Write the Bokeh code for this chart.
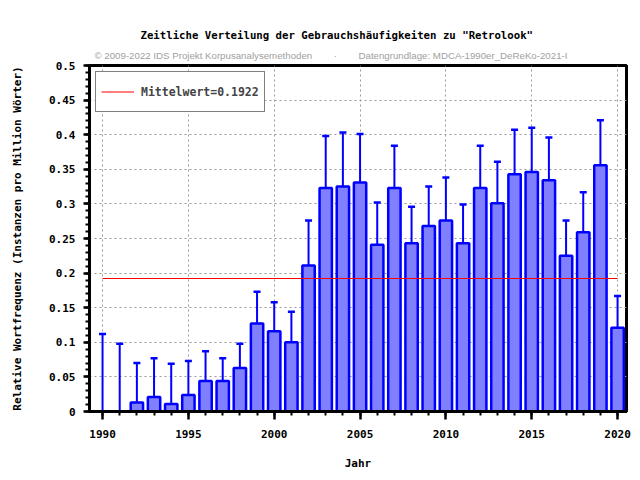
from bokeh.plotting import figure
from bokeh.models import (ColumnDataSource, Whisker, TeeHead, FixedTicker, Title,
                          Legend, LegendItem, Range1d)
from bokeh.embed import file_html
from bokeh.resources import INLINE

years = list(range(1990, 2021))
values = [0.0, 0.0, 0.013, 0.021, 0.011, 0.024, 0.044, 0.044, 0.063, 0.127,
          0.116, 0.100, 0.211, 0.323, 0.325, 0.331, 0.241, 0.323, 0.243, 0.268,
          0.276, 0.243, 0.323, 0.301, 0.343, 0.346, 0.334, 0.225, 0.259, 0.356,
          0.121]
upper = [0.112, 0.098, 0.070, 0.077, 0.069, 0.073, 0.087, 0.077, 0.098, 0.173,
         0.158, 0.144, 0.276, 0.398, 0.403, 0.401, 0.302, 0.384, 0.296, 0.325,
         0.338, 0.299, 0.384, 0.361, 0.407, 0.410, 0.396, 0.276, 0.317, 0.421,
         0.167]
lower = [0.0, 0.0, 0.001, 0.004, 0.001, 0.007, 0.022, 0.025, 0.039, 0.094,
         0.084, 0.069, 0.160, 0.260, 0.263, 0.272, 0.193, 0.269, 0.200, 0.221,
         0.226, 0.197, 0.272, 0.252, 0.289, 0.289, 0.282, 0.181, 0.213, 0.299,
         0.088]
mean_value = 0.1922

x_major = [1990, 1995, 2000, 2005, 2010, 2015, 2020]
y_major = [0, 0.05, 0.1, 0.15, 0.2, 0.25, 0.3, 0.35, 0.4, 0.45, 0.5]
y_labels = ["0", "0.05", "0.1", "0.15", "0.2", "0.25", "0.3", "0.35", "0.4", "0.45", "0.5"]
y_minor = [i / 100 for i in range(0, 51)]

title_text = 'Zeitliche Verteilung der Gebrauchshäufigkeiten zu "Retrolook"'
sub_text = ("© 2009-2022 IDS Projekt Korpusanalysemethoden" + "\u00a0" * 8 + "·"
            + "\u00a0" * 8 + "Datengrundlage: MDCA-1990er_DeReKo-2021-I")
x_label = "Jahr"
y_label = "Relative Wortfrequenz (Instanzen pro Million Wörter)"

MONO = "DejaVu Sans Mono"

p = figure(width=632, height=472, output_backend="svg", toolbar_location=None,
           title=None,
           x_range=Range1d(1989.24, 2020.52), y_range=Range1d(0, 0.5),
           min_border_left=89, min_border_right=6, min_border_top=65,
           min_border_bottom=59)
p.background_fill_color = "white"
p.border_fill_color = "white"
p.outline_line_color = "black"
p.outline_line_width = 3

src = ColumnDataSource(dict(x=years, top=values, upper=upper, lower=lower))

p.vbar(x="x", top="top", width=0.72, source=src, fill_color="#8080ff",
       line_color="#0000ff", line_width=2.5)

w = Whisker(base="x", upper="upper", lower="lower", source=src,
            line_color="#0000ff", line_width=2,
            upper_head=TeeHead(size=7, line_color="#0000ff", line_width=2.5),
            lower_head=TeeHead(size=7, line_color="#0000ff", line_width=2.5))
p.add_layout(w)

mean_line = p.line(x=[years[0], years[-1]], y=[mean_value, mean_value],
                   line_color="red", line_width=1.2)

legend = Legend(items=[LegendItem(label=f"Mittelwert={mean_value}", renderers=[mean_line])],
                location="top_left")
legend.margin = 6
legend.padding = 5
legend.glyph_width = 33
legend.glyph_height = 29
legend.label_height = 29
legend.label_standoff = 7
legend.label_text_font = MONO
legend.label_text_font_style = "bold"
legend.label_text_font_size = "11.5px"
legend.border_line_color = "black"
legend.border_line_width = 1
legend.background_fill_alpha = 1
p.add_layout(legend)

# axes
p.xaxis.ticker = FixedTicker(ticks=x_major, minor_ticks=years)
p.yaxis.ticker = FixedTicker(ticks=y_major, minor_ticks=y_minor)
p.yaxis.major_label_overrides = {v: s for v, s in zip(y_major, y_labels)}
p.xaxis.major_label_overrides = {v: str(v) for v in x_major}

for ax in (p.xaxis, p.yaxis):
    ax.axis_line_color = "black"
    ax.axis_line_width = 3
    ax.major_tick_line_color = "black"
    ax.minor_tick_line_color = "black"
    ax.major_tick_line_width = 2.5
    ax.minor_tick_line_width = 2
    ax.major_tick_in = 0
    ax.minor_tick_in = 0
    ax.major_label_text_font = MONO
    ax.major_label_text_font_style = "bold"
    ax.major_label_text_font_size = "11px"
    ax.major_label_text_color = "black"
    ax.axis_label_text_font = MONO
    ax.axis_label_text_font_style = "bold"
    ax.axis_label_text_font_size = "11px"
    ax.axis_label_text_color = "black"

p.xaxis.major_tick_out = 8
p.xaxis.minor_tick_out = 4
p.yaxis.major_tick_out = 6
p.yaxis.minor_tick_out = 4
p.xaxis.major_label_standoff = 10
p.yaxis.major_label_standoff = 8
p.xaxis.axis_label = x_label
p.yaxis.axis_label = y_label
p.xaxis.axis_label_standoff = 16
p.yaxis.axis_label_standoff = 22

# grid
p.xgrid.ticker = FixedTicker(ticks=x_major)
p.ygrid.ticker = FixedTicker(ticks=y_major)
for g in (p.xgrid, p.ygrid):
    g.grid_line_color = "#999999"
    g.grid_line_dash = "2 3"
    g.grid_line_width = 1

sub = Title(text=sub_text, align="left", offset=5, text_font="Liberation Sans",
            text_font_style="normal", text_font_size="9.7px", text_color="#a0a0a0",
            standoff=10)
p.add_layout(sub, "above")
main = Title(text=title_text, align="left", offset=51, text_font=MONO,
             text_font_style="bold", text_font_size="10.7px", text_color="black",
             standoff=2)
p.add_layout(main, "above")

open("out.html", "w").write(file_html(p, INLINE))
